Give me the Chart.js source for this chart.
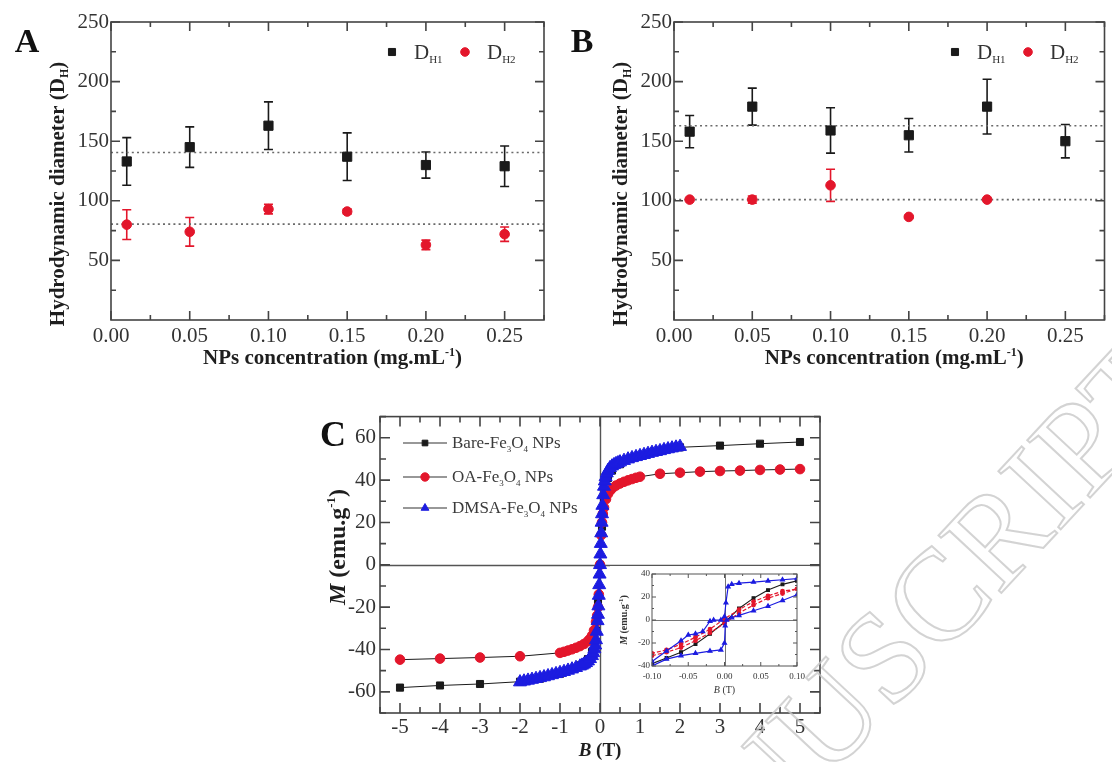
<!DOCTYPE html>
<html><head><meta charset="utf-8">
<script src="https://cdn.jsdelivr.net/npm/chart.js@4.4.1/dist/chart.umd.min.js"></script>
<style>
html,body{margin:0;padding:0;background:#fff;}
#fig{position:relative;width:1112px;height:762px;overflow:hidden;background:#fff;}
canvas{position:absolute;}
</style></head><body>
<div id="fig">
<canvas id="panelA" width="560" height="380" style="left:0;top:0"></canvas>
<canvas id="panelB" width="557" height="380" style="left:555px;top:0"></canvas>
<canvas id="panelC" width="540" height="362" style="left:300px;top:400px"></canvas>
<canvas id="inset" width="200" height="134" style="left:610px;top:566px"></canvas>
<canvas id="mark" width="1112" height="762" style="left:0;top:0;pointer-events:none"></canvas>
</div>
<script>
// ---------- hydrodynamic diameter, panel A ----------
const concRange = [0, 0.275];
const concTicks = [0, 0.05, 0.10, 0.15, 0.20, 0.25];
const concMinor = [0.025, 0.075, 0.125, 0.175, 0.225, 0.275];
const diamTicks = [50, 100, 150, 200, 250];
const diamMinor = [25, 75, 125, 175, 225];

const concA = [0.01, 0.05, 0.10, 0.15, 0.20, 0.25];
const dh1A = [133, 145, 163, 137, 130, 129];
const dh1AErr = [20, 17, 20, 20, 11, 17];
const dh2A = [80, 74, 93, 91, 63, 72];
const dh2AErr = [12.5, 12, 4, 2, 4, 6];
const meanA = [140.5, 80.4];

// ---------- hydrodynamic diameter, panel B ----------
const concB1 = [0.01, 0.05, 0.10, 0.15, 0.20, 0.25];
const dh1B = [158, 179, 159, 155, 179, 150];
const dh1BErr = [13.5, 15.5, 19, 14, 23, 14];
const concB2 = [0.01, 0.05, 0.10, 0.15, 0.20];
const dh2B = [101, 101, 113, 86.5, 101];
const dh2BErr = [1, 3, 13.5, 1, 1];
const meanB = [163, 101];

// ---------- magnetisation curves, panel C ----------
const fieldTicks = [-5, -4, -3, -2, -1, 0, 1, 2, 3, 4, 5];
const fieldMinor = [-5.5, -4.5, -3.5, -2.5, -1.5, -0.5, 0.5, 1.5, 2.5, 3.5, 4.5, 5.5];
const magTicks = [-60, -40, -20, 0, 20, 40, 60];
const magMinor = [-70, -50, -30, -10, 10, 30, 50, 70];

const bareField = [-5, -4, -3, -2, -1.5, -1, -0.5, -0.3, -0.2, -0.1, -0.05, 0, 0.05, 0.1, 0.2, 0.3, 0.5, 1, 1.5, 2, 3, 4, 5];
const bareM = [-58, -57, -56.3, -55.2, -53.8, -51.5, -47.5, -44.5, -41, -31, -18, 0, 18, 31, 41, 44.5, 47.5, 51.5, 53.8, 55.5, 56.3, 57.2, 58];

const oaField = [-5, -4, -3, -2, -1, -0.9, -0.8, -0.7, -0.6, -0.5, -0.4, -0.3, -0.25, -0.2, -0.15, -0.1, -0.07, -0.05, -0.03, 0,
  0.03, 0.05, 0.07, 0.1, 0.15, 0.2, 0.25, 0.3, 0.4, 0.5, 0.6, 0.7, 0.8, 0.9, 1, 1.5, 2, 2.5, 3, 3.5, 4, 4.5, 5];
const oaM = [-44.8, -44.3, -43.8, -43.2, -41.6, -41.1, -40.5, -39.9, -39.2, -38.4, -37.4, -36, -35, -33.5, -31, -27, -24, -20, -14, 0,
  14, 20, 24, 27, 31, 33.5, 35, 36, 37.4, 38.4, 39.2, 39.9, 40.5, 41.1, 41.6, 43, 43.5, 44, 44.3, 44.5, 44.8, 45, 45.2];

const dmsaField = [-2, -1.9, -1.8, -1.7, -1.6, -1.5, -1.4, -1.3, -1.2, -1.1, -1, -0.9, -0.8, -0.7, -0.6, -0.5,
  -0.45, -0.4, -0.35, -0.3, -0.25, -0.2, -0.17, -0.14, -0.12, -0.1, -0.08, -0.06, -0.05, -0.04, -0.03, -0.02, -0.01, 0,
  0.01, 0.02, 0.03, 0.04, 0.05, 0.06, 0.08, 0.1, 0.12, 0.14, 0.17, 0.2, 0.25, 0.3, 0.35, 0.4, 0.45,
  0.5, 0.6, 0.7, 0.8, 0.9, 1, 1.1, 1.2, 1.3, 1.4, 1.5, 1.6, 1.7, 1.8, 1.9, 2];
const dmsaM = [-55.4, -55, -54.6, -54.2, -53.8, -53.4, -53, -52.5, -52, -51.5, -51, -50.5, -49.9, -49.3, -48.6, -47.9,
  -47.5, -47, -46.3, -45.5, -44.4, -43, -41.6, -39.8, -38, -35.5, -31.5, -26.5, -23.5, -19.5, -14.5, -9.5, -4.5, 0,
  5, 10, 15, 20, 24, 28, 33, 37, 39.5, 41.5, 43.3, 44.5, 45.8, 46.6, 47.2, 47.7, 48.1,
  48.5, 49.2, 49.9, 50.5, 51, 51.5, 52, 52.5, 53, 53.4, 53.8, 54.3, 54.7, 55.1, 55.5, 55.8];

// ---------- low-field loops (inset) ----------
const loopTicksX = [-0.10, -0.05, 0, 0.05, 0.10];
const loopMinorX = [-0.075, -0.025, 0.025, 0.075];
const loopTicksY = [-40, -20, 0, 20, 40];
const loopMinorY = [-30, -10, 10, 30];

const bareLoopField = [-0.1, -0.08, -0.06, -0.04, -0.02, 0, 0.02, 0.04, 0.06, 0.08, 0.1];
const bareLoopM = [-38, -33, -28, -21, -12, -2, 10, 19, 26, 31, 34];
const oaLoopField = [-0.1, -0.08, -0.06, -0.04, -0.02, 0, 0.02, 0.04, 0.06, 0.08, 0.1,
  0.08, 0.06, 0.04, 0.02, 0, -0.02, -0.04, -0.06, -0.08, -0.1];
const oaLoopM = [-31, -28, -24, -18, -11, -3, 6, 13, 19, 23, 27,
  25, 21, 16, 9, 1, -8, -15, -21, -26, -29];
const dmsaLoopField = [0.1, 0.08, 0.06, 0.04, 0.02, 0.01, 0.005, 0.002, 0, -0.005, -0.015, -0.02, -0.03, -0.04, -0.05, -0.06, -0.08, -0.1,
  -0.1, -0.08, -0.06, -0.04, -0.02, -0.005, 0, 0.001, 0.003, 0.01, 0.02, 0.04, 0.06, 0.08, 0.1];
const dmsaLoopM = [36, 35, 34, 33, 32, 31, 29, 15, 3, 0, 0, -1, -10, -12, -13, -18, -27, -36,
  -40, -34, -31, -29, -27, -26, -20, -5, 0, 2, 4, 8, 12, 17, 22];

// ---------- shared styling ----------
const SERIF = "'Liberation Serif','Times New Roman',serif";
const RED = '#e3162b', BLUE = '#1c1ce0', INK = '#1a1a1a', AXIS = '#444', LABEL = '#333';

const pts = (xs, ys) => xs.map((x, i) => ({ x, y: ys[i] }));
const fixTicks = arr => s => { s.ticks = arr.map(v => ({ value: v })); };

// Writes a run of text pieces (sub/superscripts, italics) centred on (x, y).
function drawRich(ctx, parts, x, y, angle, color) {
  ctx.save();
  ctx.translate(x, y);
  ctx.rotate(angle || 0);
  ctx.fillStyle = color || INK;
  ctx.textBaseline = 'alphabetic';
  const fontOf = p => `${p.italic ? 'italic ' : ''}${p.bold ? 'bold ' : ''}${p.size}px ${SERIF}`;
  let w = 0;
  parts.forEach(p => { ctx.font = fontOf(p); p.w = ctx.measureText(p.text).width; w += p.w; });
  const base = parts[0].size * 0.33;
  let cx = -w / 2;
  parts.forEach(p => { ctx.font = fontOf(p); ctx.fillText(p.text, cx, base + (p.dy || 0)); cx += p.w; });
  ctx.restore();
}

// Box around the plotting area with inward ticks on all four sides.
const framePlugin = {
  id: 'frame',
  beforeDatasetsDraw(chart, args, o) {
    const { ctx, chartArea: a, scales: { x, y } } = chart;
    if (o.zeroLines) {
      ctx.save(); ctx.strokeStyle = o.zeroColor; ctx.lineWidth = o.zeroWidth;
      const x0 = Math.round(x.getPixelForValue(0)) + 0.5, y0 = Math.round(y.getPixelForValue(0)) + 0.5;
      ctx.beginPath(); ctx.moveTo(a.left, y0); ctx.lineTo(a.right, y0);
      ctx.moveTo(x0, a.top); ctx.lineTo(x0, a.bottom); ctx.stroke(); ctx.restore();
    }
  },
  afterDatasetsDraw(chart, args, o) {
    const { ctx, chartArea: a, scales: { x, y } } = chart;
    ctx.save();
    ctx.strokeStyle = o.color; ctx.lineWidth = o.width;
    ctx.strokeRect(a.left, a.top, a.right - a.left, a.bottom - a.top);
    ctx.beginPath();
    const tx = (vals, len) => vals.forEach(v => {
      const p = x.getPixelForValue(v);
      ctx.moveTo(p, a.bottom); ctx.lineTo(p, a.bottom - len);
      ctx.moveTo(p, a.top); ctx.lineTo(p, a.top + len);
    });
    const ty = (vals, len) => vals.forEach(v => {
      const p = y.getPixelForValue(v);
      ctx.moveTo(a.left, p); ctx.lineTo(a.left + len, p);
      ctx.moveTo(a.right, p); ctx.lineTo(a.right - len, p);
    });
    tx(o.xMajor, o.major); tx(o.xMinor, o.minor); ty(o.yMajor, o.major); ty(o.yMinor, o.minor);
    ctx.stroke();
    ctx.restore();
  }
};

// Vertical error bars with caps, from each dataset's `errors` list.
const errorBarPlugin = {
  id: 'errorBars',
  beforeDatasetsDraw(chart) {
    const { ctx, scales: { x, y } } = chart;
    chart.data.datasets.forEach(ds => {
      if (!ds.errors) return;
      ctx.save(); ctx.strokeStyle = ds.errorColor; ctx.lineWidth = 1.6;
      ctx.beginPath();
      ds.data.forEach((p, j) => {
        const e = ds.errors[j];
        const px = x.getPixelForValue(p.x);
        const t = y.getPixelForValue(p.y + e), b = y.getPixelForValue(p.y - e);
        ctx.moveTo(px, t); ctx.lineTo(px, b);
        ctx.moveTo(px - 4.5, t); ctx.lineTo(px + 4.5, t);
        ctx.moveTo(px - 4.5, b); ctx.lineTo(px + 4.5, b);
      });
      ctx.stroke(); ctx.restore();
    });
  }
};

function marker(ctx, style, r, x, y, fill) {
  ctx.save(); ctx.fillStyle = fill; ctx.strokeStyle = fill;
  Chart.helpers.drawPoint(ctx, { pointStyle: style, radius: r, borderWidth: 1, rotation: 0 }, x, y);
  ctx.restore();
}

// ---------- panels A and B ----------
function diameterChart(id, letter, sets, means, yAxisWidth, padRight) {
  const [c1, v1, e1, c2, v2, e2] = sets;
  const meanLine = v => ({
    type: 'line', data: pts(concRange, [v, v]), borderColor: '#6a6a6a', borderWidth: 1.6,
    borderDash: [2, 3.2], pointRadius: 0, order: 5, fill: false
  });
  return new Chart(document.getElementById(id), {
    type: 'scatter',
    data: {
      datasets: [
        { label: 'DH1', data: pts(c1, v1), errors: e1, errorColor: INK, pointStyle: 'rect',
          pointRadius: 6.5, backgroundColor: INK, borderColor: INK, order: 1 },
        { label: 'DH2', data: pts(c2, v2), errors: e2, errorColor: RED, pointStyle: 'circle',
          pointRadius: 4.8, backgroundColor: RED, borderColor: RED, order: 2 },
        meanLine(means[0]), meanLine(means[1])
      ]
    },
    options: {
      responsive: false, animation: false, devicePixelRatio: 1,
      layout: { padding: { left: 0, top: 22, right: padRight, bottom: 0 } },
      plugins: {
        legend: { display: false }, tooltip: { enabled: false },
        frame: { xMajor: concTicks, xMinor: concMinor, yMajor: diamTicks, yMinor: diamMinor,
          major: 9, minor: 5, color: AXIS, width: 1.6 }
      },
      scales: {
        x: { type: 'linear', min: concRange[0], max: concRange[1], afterBuildTicks: fixTicks(concTicks),
          afterFit: s => { s.height = 60; },
          grid: { display: false, drawTicks: false }, border: { display: false },
          ticks: { padding: 4, color: LABEL, font: { family: SERIF, size: 21 }, maxRotation: 0, autoSkip: false,
            callback: v => Number(v).toFixed(2) } },
        y: { type: 'linear', min: 0, max: 250, afterBuildTicks: fixTicks(diamTicks),
          afterFit: s => { s.width = yAxisWidth; },
          grid: { display: false, drawTicks: false }, border: { display: false },
          ticks: { padding: 2, color: LABEL, font: { family: SERIF, size: 21 }, autoSkip: false,
            callback: v => String(v) } }
      }
    },
    plugins: [framePlugin, errorBarPlugin, {
      id: 'decor',
      afterDraw(chart) {
        const { ctx, chartArea: a } = chart;
        // panel letter
        ctx.save(); ctx.fillStyle = '#111'; ctx.font = `bold 34px ${SERIF}`;
        ctx.textBaseline = 'middle'; ctx.textAlign = 'center';
        ctx.fillText(letter, 27, 43); ctx.restore();
        // axis titles
        drawRich(ctx, [
          { text: 'Hydrodynamic diameter (D', size: 21, bold: true },
          { text: 'H', size: 12, bold: true, dy: 4 },
          { text: ')', size: 21, bold: true }
        ], a.left - 54, 194, -Math.PI / 2, '#1e1e1e');
        drawRich(ctx, [
          { text: 'NPs concentration (mg.mL', size: 21, bold: true },
          { text: '-1', size: 12, bold: true, dy: -8 },
          { text: ')', size: 21, bold: true }
        ], (a.left + a.right) / 2 + 5, 357, 0, '#1e1e1e');
        // key
        const ky = a.top + 30;
        const item = (mx, style, r, col, sub) => {
          marker(ctx, style, r, mx, ky, col);
          ctx.save(); ctx.fillStyle = '#333';
          ctx.font = `21px ${SERIF}`; ctx.textBaseline = 'alphabetic';
          ctx.fillText('D', mx + 22, ky + 7);
          const w = ctx.measureText('D').width;
          ctx.font = `11px ${SERIF}`; ctx.fillText(sub, mx + 22 + w, ky + 11);
          ctx.restore();
        };
        item(a.left + 281, 'rect', 5, INK, 'H1');
        item(a.left + 354, 'circle', 4.3, RED, 'H2');
      }
    }]
  });
}

diameterChart('panelA', 'A', [concA, dh1A, dh1AErr, concA, dh2A, dh2AErr], meanA, 111, 16);
diameterChart('panelB', 'B', [concB1, dh1B, dh1BErr, concB2, dh2B, dh2BErr], meanB, 119, 5);

// ---------- panel C ----------
new Chart(document.getElementById('panelC'), {
  type: 'scatter',
  data: {
    datasets: [
      { label: 'DMSA-Fe3O4 NPs', data: pts(dmsaField, dmsaM), showLine: true, borderColor: INK, borderWidth: 1,
        pointStyle: 'triangle', pointRadius: 7.5, backgroundColor: BLUE, pointBorderColor: BLUE, order: 0 },
      { label: 'OA-Fe3O4 NPs', data: pts(oaField, oaM), showLine: true, borderColor: INK, borderWidth: 1,
        pointStyle: 'circle', pointRadius: 4.8, backgroundColor: RED, pointBorderColor: RED, order: 1 },
      { label: 'Bare-Fe3O4 NPs', data: pts(bareField, bareM), showLine: true, borderColor: INK, borderWidth: 1,
        pointStyle: 'rect', pointRadius: 5, backgroundColor: INK, pointBorderColor: INK, order: 2 }
    ]
  },
  options: {
    responsive: false, animation: false, devicePixelRatio: 1,
    layout: { padding: { left: 0, top: 13, right: 20, bottom: 0 } },
    plugins: {
      legend: { display: false }, tooltip: { enabled: false },
      frame: { xMajor: fieldTicks, xMinor: fieldMinor, yMajor: magTicks, yMinor: magMinor,
        major: 10, minor: 6, color: AXIS, width: 1.6, zeroLines: true, zeroColor: '#555', zeroWidth: 1.4 }
    },
    scales: {
      x: { type: 'linear', min: -5.5, max: 5.5, afterBuildTicks: fixTicks(fieldTicks),
        afterFit: s => { s.height = 49; },
        grid: { display: false, drawTicks: false }, border: { display: false },
        ticks: { padding: 2, color: LABEL, font: { family: SERIF, size: 21 }, maxRotation: 0, autoSkip: false,
          callback: v => String(v) } },
      y: { type: 'linear', min: -70, max: 70, afterBuildTicks: fixTicks(magTicks),
        afterFit: s => { s.width = 80; },
        grid: { display: false, drawTicks: false }, border: { display: false },
        ticks: { padding: 4, color: LABEL, font: { family: SERIF, size: 21 }, autoSkip: false,
          callback: v => String(v) } }
    }
  },
  plugins: [framePlugin, {
    id: 'decorC',
    afterDraw(chart) {
      const { ctx, chartArea: a } = chart;
      ctx.save(); ctx.fillStyle = '#111'; ctx.font = `bold 36px ${SERIF}`;
      ctx.textBaseline = 'middle'; ctx.textAlign = 'center';
      ctx.fillText('C', 33, 37); ctx.restore();
      drawRich(ctx, [
        { text: 'M', size: 24, bold: true, italic: true },
        { text: ' (emu.g', size: 24, bold: true },
        { text: '-1', size: 13, bold: true, dy: -10 },
        { text: ')', size: 24, bold: true }
      ], 37, 147, -Math.PI / 2, '#1e1e1e');
      drawRich(ctx, [
        { text: 'B', size: 19, bold: true, italic: true },
        { text: ' (T)', size: 19, bold: true }
      ], (a.left + a.right) / 2, 350, 0, '#1e1e1e');
      // key
      const rows = [
        { style: 'rect', r: 4, col: INK, name: 'Bare-Fe', y: 43 },
        { style: 'circle', r: 4.2, col: RED, name: 'OA-Fe', y: 77 },
        { style: 'triangle', r: 4.5, col: BLUE, name: 'DMSA-Fe', y: 108 }
      ];
      rows.forEach(k => {
        const mx = 125;
        ctx.save(); ctx.strokeStyle = '#333'; ctx.lineWidth = 1.2;
        ctx.beginPath(); ctx.moveTo(mx - 22, k.y); ctx.lineTo(mx + 22, k.y); ctx.stroke(); ctx.restore();
        marker(ctx, k.style, k.r, mx, k.y, k.col);
        let tx = mx + 27;
        const put = (t, size, dy) => {
          ctx.save(); ctx.fillStyle = '#3a3a3a'; ctx.font = `${size}px ${SERIF}`;
          ctx.fillText(t, tx, k.y + 5 + dy); tx += ctx.measureText(t).width; ctx.restore();
        };
        put(k.name, 17, 0); put('3', 9, 4); put('O', 17, 0); put('4', 9, 4); put(' NPs', 17, 0);
      });
    }
  }]
});

// ---------- inset: low-field loops ----------
new Chart(document.getElementById('inset'), {
  type: 'scatter',
  data: {
    datasets: [
      { data: pts(dmsaLoopField, dmsaLoopM), showLine: true, borderColor: BLUE, borderWidth: 1.2,
        pointStyle: 'triangle', pointRadius: 2.3, backgroundColor: BLUE, pointBorderColor: BLUE, order: 0 },
      { data: pts(bareLoopField, bareLoopM), showLine: true, borderColor: INK, borderWidth: 1.1,
        pointStyle: 'rect', pointRadius: 2, backgroundColor: INK, pointBorderColor: INK, order: 2 },
      { data: pts(oaLoopField, oaLoopM), showLine: true, borderColor: RED, borderWidth: 1.2, borderDash: [4, 2],
        pointStyle: 'circle', pointRadius: 1.8, backgroundColor: RED, pointBorderColor: RED, order: 1 }
    ]
  },
  options: {
    responsive: false, animation: false, devicePixelRatio: 1,
    layout: { padding: { left: 0, top: 8, right: 13, bottom: 0 } },
    plugins: {
      legend: { display: false }, tooltip: { enabled: false },
      frame: { xMajor: loopTicksX, xMinor: loopMinorX, yMajor: loopTicksY, yMinor: loopMinorY,
        major: 4, minor: 2, color: '#555', width: 1, zeroLines: true, zeroColor: '#666', zeroWidth: 0.9 }
    },
    scales: {
      x: { type: 'linear', min: -0.1, max: 0.1, afterBuildTicks: fixTicks(loopTicksX),
        afterFit: s => { s.height = 34; },
        grid: { display: false, drawTicks: false }, border: { display: false },
        ticks: { padding: 5, color: LABEL, font: { family: SERIF, size: 9 }, maxRotation: 0, autoSkip: false,
          callback: v => Number(v).toFixed(2) } },
      y: { type: 'linear', min: -40, max: 40, afterBuildTicks: fixTicks(loopTicksY),
        afterFit: s => { s.width = 42; },
        grid: { display: false, drawTicks: false }, border: { display: false },
        ticks: { padding: 2, color: LABEL, font: { family: SERIF, size: 9 }, autoSkip: false,
          callback: v => String(v) } }
    }
  },
  plugins: [framePlugin, {
    id: 'decorInset',
    beforeDraw(chart) {
      const { ctx } = chart;
      ctx.save(); ctx.fillStyle = '#fff'; ctx.fillRect(0, 0, chart.width, chart.height); ctx.restore();
    },
    afterDraw(chart) {
      const { ctx, chartArea: a } = chart;
      drawRich(ctx, [
        { text: 'M', size: 10, bold: true, italic: true },
        { text: ' (emu.g', size: 10, bold: true },
        { text: '-1', size: 7, bold: true, dy: -4 },
        { text: ')', size: 10, bold: true }
      ], 14, (a.top + a.bottom) / 2, -Math.PI / 2, '#333');
      drawRich(ctx, [
        { text: 'B', size: 10, italic: true },
        { text: ' (T)', size: 10 }
      ], (a.left + a.right) / 2, 124, 0, '#333');
    }
  }]
});

// ---------- outlined watermark lettering ----------
(function () {
  const ctx = document.getElementById('mark').getContext('2d');
  ctx.save();
  ctx.translate(619, 1003);
  ctx.rotate(-47 * Math.PI / 180);
  ctx.font = `130px ${SERIF}`;
  ctx.textBaseline = 'alphabetic';
  ctx.strokeStyle = 'rgba(200,200,200,0.8)';
  ctx.lineWidth = 2;
  ctx.strokeText('MANUSCRIPT', 0, 0);
  ctx.restore();
})();
</script>
</body></html>
